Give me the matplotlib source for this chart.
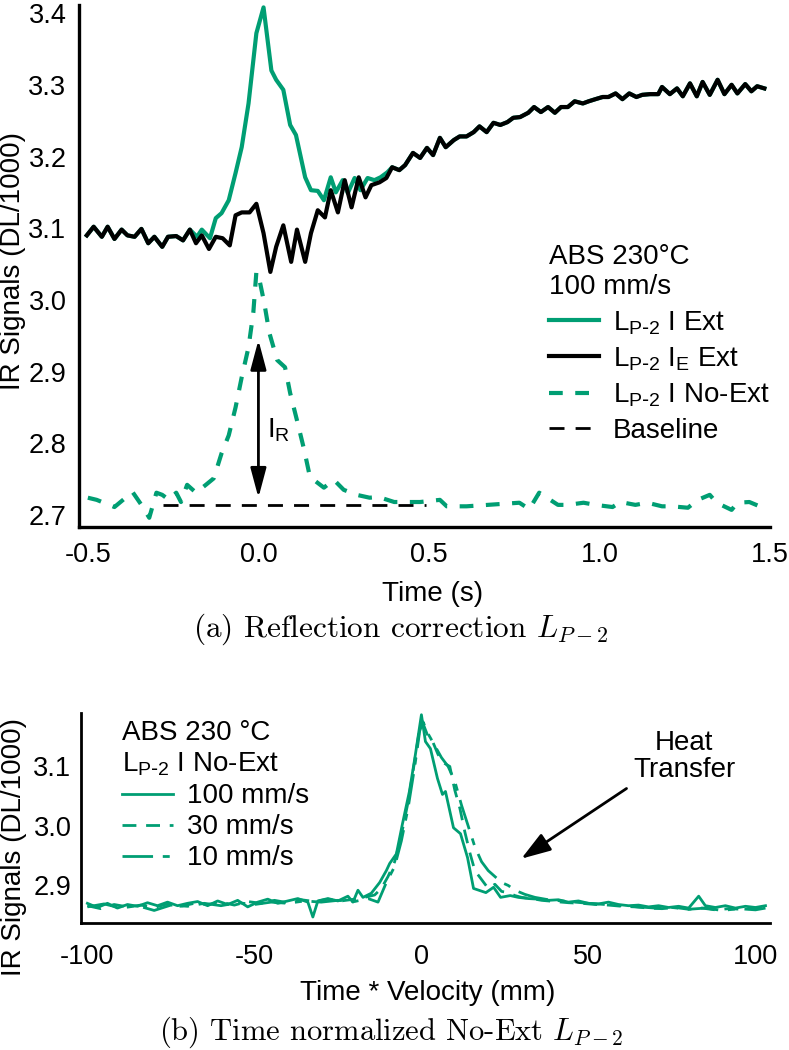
import numpy as np
import matplotlib
matplotlib.use('Agg')
import matplotlib.pyplot as plt

plt.rcParams['font.family'] = ['Liberation Sans', 'DejaVu Sans']
plt.rcParams['axes.unicode_minus'] = False

GREEN = '#009E73'

# ---- panel (a): reflection correction, ABS 230 C, 100 mm/s ----
# L_P-2 I_E Ext (black)
time_ie = [-0.503, -0.483, -0.459, -0.442, -0.422, -0.401, -0.384, -0.363, -0.343, -0.323,
           -0.305, -0.282, -0.265, -0.241, -0.221, -0.201, -0.183, -0.166, -0.145, -0.125,
           -0.105, -0.084, -0.067, -0.049, -0.026, -0.006, 0.015, 0.035, 0.052, 0.073,
           0.096, 0.113, 0.137, 0.154, 0.174, 0.195, 0.212, 0.233, 0.253, 0.273,
           0.294, 0.314, 0.331, 0.355, 0.375, 0.392, 0.413, 0.430, 0.453, 0.474,
           0.494, 0.512, 0.532, 0.549, 0.573, 0.590, 0.610, 0.631, 0.648, 0.669,
           0.689, 0.709, 0.730, 0.747, 0.767, 0.791, 0.808, 0.828, 0.849, 0.869,
           0.887, 0.907, 0.927, 0.951, 0.968, 0.988, 1.009, 1.026, 1.047, 1.067,
           1.087, 1.108, 1.125, 1.148, 1.172, 1.183, 1.206, 1.227, 1.244, 1.265,
           1.285, 1.302, 1.323, 1.346, 1.366, 1.387, 1.404, 1.427, 1.445, 1.462, 1.483]
sig_ie = [3.090, 3.102, 3.088, 3.102, 3.085, 3.098, 3.090, 3.088, 3.099, 3.079,
          3.088, 3.074, 3.088, 3.089, 3.083, 3.098, 3.079, 3.090, 3.071, 3.088,
          3.086, 3.076, 3.118, 3.122, 3.122, 3.134, 3.093, 3.039, 3.074, 3.104,
          3.053, 3.098, 3.053, 3.093, 3.125, 3.115, 3.153, 3.122, 3.167, 3.129,
          3.171, 3.143, 3.160, 3.164, 3.170, 3.185, 3.181, 3.188, 3.205, 3.198,
          3.212, 3.202, 3.226, 3.213, 3.223, 3.228, 3.228, 3.234, 3.242, 3.234,
          3.247, 3.244, 3.248, 3.254, 3.255, 3.261, 3.269, 3.262, 3.269, 3.261,
          3.269, 3.269, 3.277, 3.274, 3.277, 3.280, 3.283, 3.283, 3.288, 3.280,
          3.288, 3.283, 3.286, 3.287, 3.287, 3.297, 3.287, 3.295, 3.284, 3.302,
          3.284, 3.304, 3.286, 3.307, 3.287, 3.300, 3.288, 3.301, 3.291, 3.298, 3.295]

# L_P-2 I Ext (green) where it leaves the black curve
time_i_peak = [-0.180, -0.166, -0.142, -0.125, -0.108, -0.087, -0.067, -0.049, -0.029, -0.006,
               0.015, 0.038, 0.052, 0.073, 0.093, 0.110, 0.137, 0.154, 0.174, 0.192,
               0.212, 0.227, 0.247, 0.262, 0.282, 0.299, 0.320, 0.340, 0.358, 0.378]
sig_i_peak = [3.088, 3.098, 3.086, 3.114, 3.121, 3.139, 3.177, 3.213, 3.274, 3.372,
              3.408, 3.320, 3.307, 3.293, 3.244, 3.230, 3.171, 3.153, 3.152, 3.139,
              3.171, 3.150, 3.167, 3.149, 3.170, 3.153, 3.170, 3.167, 3.171, 3.178]

# L_P-2 I No-Ext (green dashed)
time_noext = [-0.500, -0.474, -0.422, -0.369, -0.343, -0.320, -0.299, -0.282, -0.262, -0.241,
              -0.227, -0.209, -0.183, -0.154, -0.131, -0.108, -0.087, -0.067, -0.049, -0.029,
              -0.015, -0.006, 0.003, 0.017, 0.032, 0.055, 0.078, 0.093, 0.113, 0.134,
              0.151, 0.192, 0.221, 0.250, 0.288, 0.326, 0.352, 0.398, 0.474, 0.532,
              0.552, 0.610, 0.703, 0.765, 0.794, 0.823, 0.878, 0.907, 0.953, 0.988,
              1.038, 1.061, 1.105, 1.140, 1.183, 1.212, 1.259, 1.288, 1.323, 1.343,
              1.387, 1.404, 1.439, 1.474]
sig_noext = [2.724, 2.721, 2.711, 2.732, 2.714, 2.696, 2.731, 2.728, 2.721, 2.731,
             2.718, 2.742, 2.731, 2.742, 2.751, 2.786, 2.811, 2.850, 2.892, 2.934,
             2.982, 3.039, 3.028, 2.996, 2.954, 2.916, 2.906, 2.870, 2.832, 2.791,
             2.753, 2.738, 2.749, 2.735, 2.728, 2.724, 2.725, 2.718, 2.718, 2.721,
             2.712, 2.712, 2.715, 2.717, 2.708, 2.731, 2.714, 2.714, 2.717, 2.714,
             2.711, 2.718, 2.714, 2.717, 2.712, 2.712, 2.710, 2.721, 2.728, 2.717,
             2.707, 2.717, 2.718, 2.711]

baseline_t = [-0.28, 0.49]
baseline_v = [2.714, 2.714]
ir_time = 0.0
ir_top, ir_bottom = 2.944, 2.724

# ---- panel (b): time normalised No-Ext ----
x_100 = [-100, -97, -94, -91, -88, -85, -82, -79, -76, -73, -70, -67, -64, -61, -58, -55,
         -52, -49, -46, -43, -40, -37, -34,
         -32.5, -31, -28, -25, -22, -20.5, -19, -17.5, -15, -12.5, -10.5, -9.5, -7.5, -5.7,
         -3.6, -2, 0, 1.2, 2.7, 4.8, 6.3, 7.2, 9.6, 11.7, 13.8, 15.6, 19.3, 21.6, 23.7, 26.6,
         29, 32, 35, 38, 41, 44, 47, 50, 53, 56, 59, 62, 65, 68, 71, 74, 77, 80,
         83, 85, 88, 91, 94, 97, 100, 103]
y_100 = [2.870, 2.863, 2.870, 2.862, 2.868, 2.865, 2.871, 2.866, 2.872, 2.866, 2.870, 2.873,
         2.866, 2.874, 2.868, 2.875, 2.864, 2.872, 2.877, 2.870, 2.874, 2.878, 2.872,
         2.847, 2.874, 2.878, 2.874, 2.882, 2.872, 2.892, 2.880, 2.887, 2.905, 2.925, 2.937,
         2.953, 3.003, 3.058, 3.113, 3.187, 3.142, 3.130, 3.080, 3.053, 3.058, 2.997, 2.987,
         2.947, 2.895, 2.888, 2.897, 2.880, 2.883,
         2.880, 2.878, 2.877, 2.875, 2.876, 2.872, 2.874, 2.870, 2.869, 2.872, 2.868, 2.866,
         2.867, 2.864, 2.866, 2.863, 2.865, 2.862,
         2.882, 2.866, 2.863, 2.866, 2.862, 2.865, 2.863, 2.866]

x_30 = [-100, -96, -92, -88, -84, -80, -76, -72, -68, -64, -60, -56, -52, -48, -44, -40,
        -36, -32, -28, -24, -20,
        -17, -14, -12, -10, -8, -6, -4, -2, -0.5, 0.5, 2, 3.5, 5, 7, 8.5, 10, 11.5, 13,
        14.5, 16, 18, 20, 22, 24, 26, 28, 30,
        33, 36, 40, 44, 48, 52, 56, 60, 64, 68, 72, 76, 80, 84, 88, 92, 96, 100, 103]
y_30 = [2.866, 2.861, 2.868, 2.864, 2.867, 2.863, 2.869, 2.865, 2.870, 2.868, 2.872, 2.867,
        2.873, 2.870, 2.875, 2.871, 2.876, 2.873, 2.877, 2.874, 2.877,
        2.880, 2.884, 2.895, 2.915, 2.940, 2.985, 3.040, 3.110, 3.165, 3.172, 3.150, 3.140,
        3.120, 3.105, 3.100, 3.060, 3.030, 2.990, 2.955, 2.925, 2.910, 2.895, 2.902, 2.890,
        2.888, 2.883, 2.880,
        2.878, 2.875, 2.873, 2.871, 2.870, 2.868, 2.867, 2.865, 2.864, 2.862, 2.861, 2.863,
        2.860, 2.862, 2.859, 2.861, 2.860, 2.862, 2.861]

x_10 = [-100, -95, -90, -85, -80, -75, -70, -65, -60, -55, -50, -45, -40, -35, -30, -25, -20,
        -16, -13, -10.5, -8, -6, -4, -2, -0.5, 0.5, 2, 4, 6, 8, 10, 12, 14, 16, 18, 20, 22,
        24, 26, 28,
        31, 34, 38, 42, 46, 50, 55, 60, 65, 70, 75, 80, 85, 90, 95, 100, 103]
y_10 = [2.864, 2.869, 2.862, 2.866, 2.858, 2.867, 2.865, 2.870, 2.866, 2.871, 2.868, 2.872,
        2.870, 2.874, 2.872, 2.875, 2.873,
        2.878, 2.872, 2.905, 2.932, 2.975, 3.030, 3.100, 3.160, 3.175, 3.155, 3.135, 3.115,
        3.100, 3.075, 3.035, 3.000, 2.965, 2.940, 2.925, 2.915, 2.905, 2.900, 2.892,
        2.885, 2.880, 2.876, 2.874, 2.872, 2.870, 2.868, 2.866, 2.864, 2.862, 2.863, 2.860,
        2.862, 2.858, 2.861, 2.859, 2.862]

heat_tip = (29.9, 2.945)
heat_tail = (61.4, 3.063)
heat_text_pos = (78.7, 3.117)

fig = plt.figure(figsize=(7.89, 10.5), dpi=100)
ax1 = fig.add_axes([0.1001, 0.498, 0.876, 0.497])
ax2 = fig.add_axes([0.1027, 0.121, 0.873, 0.2])

# green curve = black outside the peak region, own values inside it
t_ie = np.array(time_ie)
s_ie = np.array(sig_ie)
before = t_ie < -0.19
after = t_ie > 0.385
time_i = np.concatenate([t_ie[before], time_i_peak, t_ie[after]])
sig_i = np.concatenate([s_ie[before], sig_i_peak, s_ie[after]])

ax1.plot(time_i, sig_i, color=GREEN, lw=3, label=r'L$_\mathregular{P\text{-}2}$ I Ext', zorder=2)
ax1.plot(time_ie, sig_ie, color='black', lw=3,
         label=r'L$_\mathregular{P\text{-}2}$ I$_\mathregular{E}$ Ext', zorder=3)
ax1.plot(time_noext, sig_noext, color=GREEN, lw=3, dashes=(3.3, 3.0),
         label=r'L$_\mathregular{P\text{-}2}$ I No-Ext', zorder=2)
ax1.plot(baseline_t, baseline_v, color='black', lw=2, dashes=(5.4, 4),
         label='Baseline', zorder=3)

ax1.annotate('', xy=(ir_time, ir_top), xytext=(ir_time, ir_bottom),
             arrowprops=dict(arrowstyle='<|-|>,head_length=0.9,head_width=0.24',
                             color='black', lw=2, shrinkA=0, shrinkB=0, mutation_scale=20))
ax1.text(0.026, 2.818, r'I$_\mathregular{R}$', fontsize=20, va='center', ha='left')

ax1.set_xlim(-0.526, 1.485)
ax1.set_ylim(2.683, 3.411)
ax1.set_xticks([-0.5, 0.0, 0.5, 1.0, 1.5])
ax1.set_xticklabels(['-0.5', '0.0', '0.5', '1.0', '1.5'])
ax1.set_yticks([2.7, 2.8, 2.9, 3.0, 3.1, 3.2, 3.3, 3.4])
ax1.set_xlabel('Time (s)', fontsize=20)
ax1.set_ylabel('IR Signals (DL/1000)', fontsize=20)
ax1.xaxis.set_label_coords(0.511, -0.104)
ax1.yaxis.set_label_coords(-0.076, 0.51)
ax1.tick_params(length=0, labelsize=19.5)
ax1.tick_params(axis='x', pad=11)
ax1.tick_params(axis='y', pad=9)
leg1 = ax1.legend(loc='upper left', bbox_to_anchor=(0.68, 0.543), frameon=False, fontsize=20,
                  title='ABS 230°C\n100 mm/s', title_fontsize=20, alignment='left',
                  handlelength=1.8, handletextpad=0.5, labelspacing=0.31,
                  borderpad=0, borderaxespad=0)
leg1.get_title().set_linespacing(1.22)

ax2.plot(x_100, y_100, color=GREEN, lw=2, label='100 mm/s')
ax2.plot(x_30, y_30, color=GREEN, lw=2, dashes=(5, 3.5), label='30 mm/s')
ax2.plot(x_10, y_10, color=GREEN, lw=2, dashes=(11, 3.5, 2.5, 3.5), label='10 mm/s')

ax2.text(*heat_text_pos, 'Heat\nTransfer', ha='center', va='center', fontsize=20,
         linespacing=1.05)
ax2.annotate('', xy=heat_tip, xytext=heat_tail,
             arrowprops=dict(arrowstyle='-|>,head_length=0.9,head_width=0.3',
                             color='black', lw=2, shrinkA=0, shrinkB=0, mutation_scale=20))

ax2.set_xlim(-101.9, 104.3)
ax2.set_ylim(2.837, 3.19)
ax2.set_xticks([-100, -50, 0, 50, 100])
ax2.set_yticks([2.9, 3.0, 3.1])
ax2.set_xlabel('Time * Velocity (mm)', fontsize=20)
ax2.set_ylabel('IR Signals (DL/1000)', fontsize=20)
ax2.xaxis.set_label_coords(0.504, -0.27)
ax2.yaxis.set_label_coords(-0.079, 0.36)
ax2.tick_params(length=0, labelsize=19.5)
ax2.tick_params(axis='x', pad=15)
ax2.tick_params(axis='y', pad=7)
leg2 = ax2.legend(loc='upper left', bbox_to_anchor=(0.06, 0.965), frameon=False, fontsize=20,
                  title='ABS 230 °C\nL$_\\mathregular{P\\text{-}2}$ I No-Ext', title_fontsize=20,
                  alignment='left', handlelength=1.84, handletextpad=0.47, labelspacing=0.18,
                  borderpad=0, borderaxespad=0)
leg2.get_title().set_linespacing(1.2)

for ax, w in ((ax1, 2.4), (ax2, 2.0)):
    ax.spines['top'].set_visible(False)
    ax.spines['right'].set_visible(False)
    ax.spines['left'].set_linewidth(w)
    ax.spines['bottom'].set_linewidth(w)

fig.text(0.508, 0.401, r'(a) Reflection correction $L_{P-2}$', family='cmr10',
         math_fontfamily='cm', fontsize=22.5, ha='center', va='center')
fig.text(0.496, 0.017, r'(b) Time normalized No-Ext $L_{P-2}$', family='cmr10',
         math_fontfamily='cm', fontsize=22, ha='center', va='center')

fig.savefig('out.png', dpi=100)
